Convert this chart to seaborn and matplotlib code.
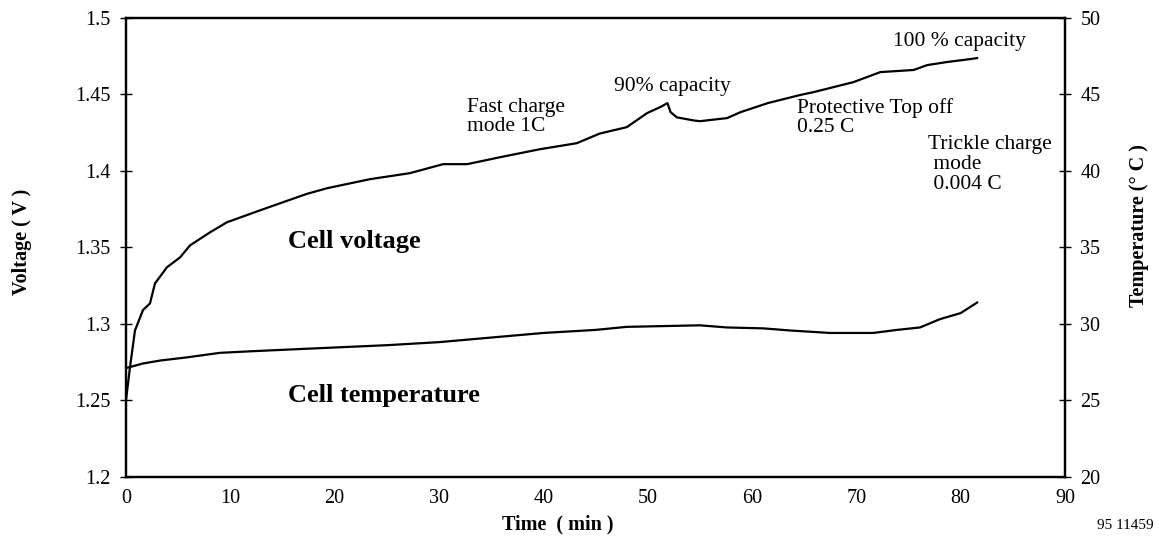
import numpy as np
import pandas as pd
import matplotlib
matplotlib.use("Agg")
import matplotlib.pyplot as plt
import seaborn as sns

# ==============================
# Data
# ==============================
volt_time = [0, 0.38, 0.86, 1.63, 2.3, 2.78, 3.93, 5.18, 6.14, 8.05, 9.68, 12.85,
             15.05, 17.35, 19.3, 23.4, 27.2, 30.4, 32.7, 35.9, 39.7, 43.2, 45.4,
             48.0, 49.95, 51.2, 51.9, 52.2, 52.8, 54.4, 55.0, 57.6, 58.9, 61.5,
             64.6, 65.9, 69.7, 72.3, 75.5, 76.8, 78.7, 80.9, 81.6]
volt_value = [1.25, 1.2714, 1.2956, 1.309, 1.3133, 1.3264, 1.337, 1.3434, 1.3513,
              1.3598, 1.3664, 1.3742, 1.3795, 1.385, 1.3887, 1.3946, 1.3985,
              1.4044, 1.4044, 1.409, 1.4142, 1.4181, 1.4244, 1.4286, 1.4378,
              1.4417, 1.4443, 1.4384, 1.435, 1.433, 1.4325, 1.4345, 1.4384,
              1.4443, 1.4496, 1.4515, 1.458, 1.4646, 1.466, 1.4692, 1.4712,
              1.4731, 1.4738]

temp_time = [0, 1.6, 3.3, 5.8, 9.0, 11.9, 15.1, 20, 25, 30, 35, 40, 45, 48, 55.0,
             57.6, 61.1, 63.7, 67.5, 71.6, 73.9, 76.1, 78.0, 80.0, 81.6]
temp_value = [27.1, 27.4, 27.6, 27.8, 28.1, 28.2, 28.3, 28.45, 28.6, 28.8, 29.1,
              29.4, 29.6, 29.8, 29.9, 29.76, 29.7, 29.56, 29.4, 29.4, 29.6,
              29.76, 30.3, 30.7, 31.4]

time_ticks = [0, 10, 20, 30, 40, 50, 60, 70, 80, 90]
volt_ticks = [1.2, 1.25, 1.3, 1.35, 1.4, 1.45, 1.5]
volt_labels = ["1.2", "1.25", "1.3", "1.35", "1.4", "1.45", "1.5"]
temp_ticks = [20, 25, 30, 35, 40, 45, 50]

volt_df = pd.DataFrame({"time": volt_time, "voltage": volt_value})
temp_df = pd.DataFrame({"time": temp_time, "temperature": temp_value})

# ==============================
# Style
# ==============================
sns.set_theme(style="white")
plt.rcParams["font.family"] = ["Liberation Serif", "DejaVu Serif"]
plt.rcParams["text.color"] = "black"
plt.rcParams["axes.labelcolor"] = "black"

fig = plt.figure(figsize=(11.59, 5.43), dpi=100)
ax = fig.add_axes([0.1087, 0.1221, 0.8102, 0.8448])
ax2 = ax.twinx()

sns.lineplot(data=volt_df, x="time", y="voltage", ax=ax, color="black", linewidth=1.6)
sns.lineplot(data=temp_df, x="time", y="temperature", ax=ax2, color="black", linewidth=1.6)

ax.set_xlim(0, 90)
ax.set_ylim(1.2, 1.5)
ax2.set_ylim(20, 50)
ax.set_xticks(time_ticks)
ax.set_yticks(volt_ticks)
ax.set_yticklabels(volt_labels)
ax2.set_yticks(temp_ticks)

for a in (ax, ax2):
    for s in a.spines.values():
        s.set_color("black")
        s.set_linewidth(1.6)
    a.tick_params(direction="inout", length=8, width=1, labelsize=14.5,
                  colors="black", pad=7)
ax.tick_params(axis="x", pad=5)

ax.set_xlabel("Time  ( min )", fontsize=14.5, fontweight="bold")
ax.set_ylabel("Voltage ( V )", fontsize=14.5, fontweight="bold")
ax2.set_ylabel("Temperature (° C )", fontsize=14.5, fontweight="bold")
ax.xaxis.set_label_coords(41.4 / 90, -0.082)
ax.yaxis.set_label_coords(-0.100, 0.512)
ax2.yaxis.set_label_coords(1.068, 0.547)

# ==============================
# Annotations
# ==============================
ax.text(15.5, 1.354, "Cell voltage", fontsize=19, fontweight="bold", va="center")
ax.text(15.5, 1.2528, "Cell temperature", fontsize=19, fontweight="bold", va="center")
ax.text(32.7, 1.4475, "Fast charge\nmode 1C", fontsize=15.5, va="top", linespacing=1.0)
ax.text(46.8, 1.4555, "90% capacity", fontsize=15.5, va="center")
ax.text(64.3, 1.4475, "Protective Top off\n0.25 C", fontsize=15.5, va="top", linespacing=1.0)
ax.text(73.5, 1.4843, "100 % capacity", fontsize=15.5, va="center")
ax.text(76.9, 1.4232, "Trickle charge\n mode\n 0.004 C", fontsize=15.5, va="top",
        linespacing=1.05)
fig.text(0.9465, 0.033, "95 11459", fontsize=11, ha="left", va="center")

fig.savefig("out.png", dpi=100)
